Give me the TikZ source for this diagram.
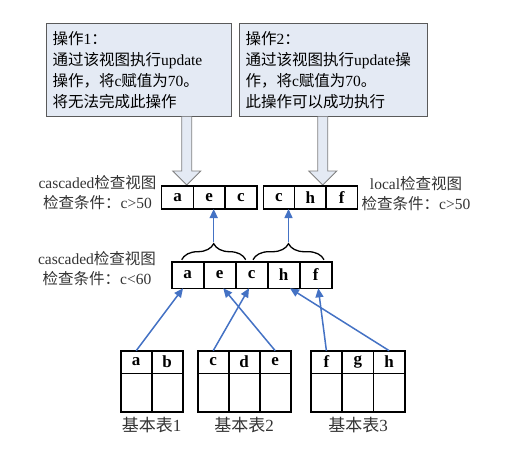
\documentclass[tikz,border=0pt]{standalone}
\usepackage{fontspec}
\setmainfont{Liberation Serif}
\newfontfamily\cjk{Noto Sans CJK SC}
\newcommand\zh[1]{{\cjk #1}}
\usetikzlibrary{arrows.meta,decorations.pathreplacing}
\definecolor{opfill}{HTML}{E4EAF4}
\definecolor{opline}{HTML}{5A5A5A}
\definecolor{linkblue}{HTML}{4472C4}
\tikzset{
  op box/.style={draw=opline,fill=opfill,line width=1pt,anchor=north west,inner sep=6pt,
    align=left,minimum height=93pt,font=\fontsize{15.5}{21}\selectfont},
  fat arrow/.style={draw=gray,fill=opfill,line width=.8pt},
  cell/.style={draw,line width=1.6pt,inner sep=0pt,outer sep=0pt,font=\bfseries\fontsize{17}{17}\selectfont},
  view label/.style={align=center,text=black!80,font=\fontsize{15.5}{20}\selectfont},
  base label/.style={text=black!80,font=\fontsize{17}{17}\selectfont},
  link/.style={linkblue,line width=1.5pt,-{Triangle[length=9pt,width=8pt]}},
  view brace/.style={decorate,decoration={brace,amplitude=16pt,raise=2pt},line width=1.3pt}
}
\begin{document}
\begin{tikzpicture}[x=1pt,y=-1pt]
  \useasboundingbox (0,0) rectangle (522,455);
  \node[op box,minimum width=185pt,text width=173pt] (op1) at (46,23)
    {\zh{操作}1\zh{：}\\\zh{通过该视图执行}update\\\zh{操作，将}c\zh{赋值为}70\zh{。}\\\zh{将无法完成此操作}};
  \node[op box,minimum width=188pt,text width=176pt] (op2) at (239,23)
    {\zh{操作}2\zh{：}\\\zh{通过该视图执行}update\zh{操}\\\zh{作，将}c\zh{赋值为}70\zh{。}\\\zh{此操作可以成功执行}};
  \foreach \x in {186.7,322.8}{
    \draw[fat arrow] (\x-5,116.5) -- (\x-5,171) -- (\x-14,171) -- (\x,185)
      -- (\x+14,171) -- (\x+5,171) -- (\x+5,116.5);
  }
  \foreach \n/\x in {a/177.5,e/209.2,c/240.9}
    \node[cell,minimum width=31.7pt,minimum height=23pt] (u1\n) at (\x,197.5) {\n};
  \foreach \n/\x in {c/279,h/310.3,f/341.7}
    \node[cell,minimum width=31.3pt,minimum height=23pt] (u2\n) at (\x,197.5) {\n};
  \foreach \n/\x in {a/187.7,e/219.7,c/251.7,h/283.7,f/315.7}
    \node[cell,minimum width=32pt,minimum height=26.6pt] (m\n) at (\x,275) {\n};
  \node[view label] (l1) at (97.5,193) {cascaded\zh{检查视图}\\\zh{检查条件：}c>50};
  \node[view label] (l2) at (416,194) {local\zh{检查视图}\\\zh{检查条件：}c>50};
  \node[view label] (l3) at (97,268.5) {cascaded\zh{检查视图}\\\zh{检查条件：}c<60};
  \draw[view brace] ([xshift=-6pt]ma.north) -- ([xshift=-6pt]mc.north);
  \draw[view brace] ([xshift=1.3pt]mc.north) -- ([xshift=8.3pt]mf.north);
  \coordinate (k1) at (213.7,242);
  \coordinate (k2) at (288.5,242);
  \draw[link] (k1) -- (k1 |- u1e.south);
  \draw[link] (k2) -- (k2 |- u2c.south);
  \foreach \t/\n/\x/\w in {1/a/136.2/31,1/b/167.2/31,2/c/213.2/31,2/d/244.2/31,2/e/275.2/31,
                           3/f/326.4/31.4,3/g/357.8/31.4,3/h/389.2/31.4}{
    \node[cell,minimum width=\w pt,minimum height=22.6pt] (t\t\n) at (\x,362) {\n};
    \node[cell,minimum width=\w pt,minimum height=38.4pt,anchor=north] (r\t\n) at (t\t\n.south) {};
  }
  \node[base label] (b1) at (151.7,425) {\zh{基本表}1};
  \node[base label] (b2) at (244.2,425) {\zh{基本表}2};
  \node[base label] (b3) at (358,425) {\zh{基本表}3};
  \draw[link] (t1a.north) -- ([xshift=-4.7pt]ma.south);
  \draw[link] (t2c.north) -- ([xshift=-2.7pt]mc.south);
  \draw[link] (t2e.north) -- ([xshift=3.6pt]me.south);
  \draw[link] (t3f.north) -- ([xshift=2.6pt]mf.south);
  \draw[link] (t3h.north) -- ([xshift=6.3pt]mh.south);
\end{tikzpicture}
\end{document}
